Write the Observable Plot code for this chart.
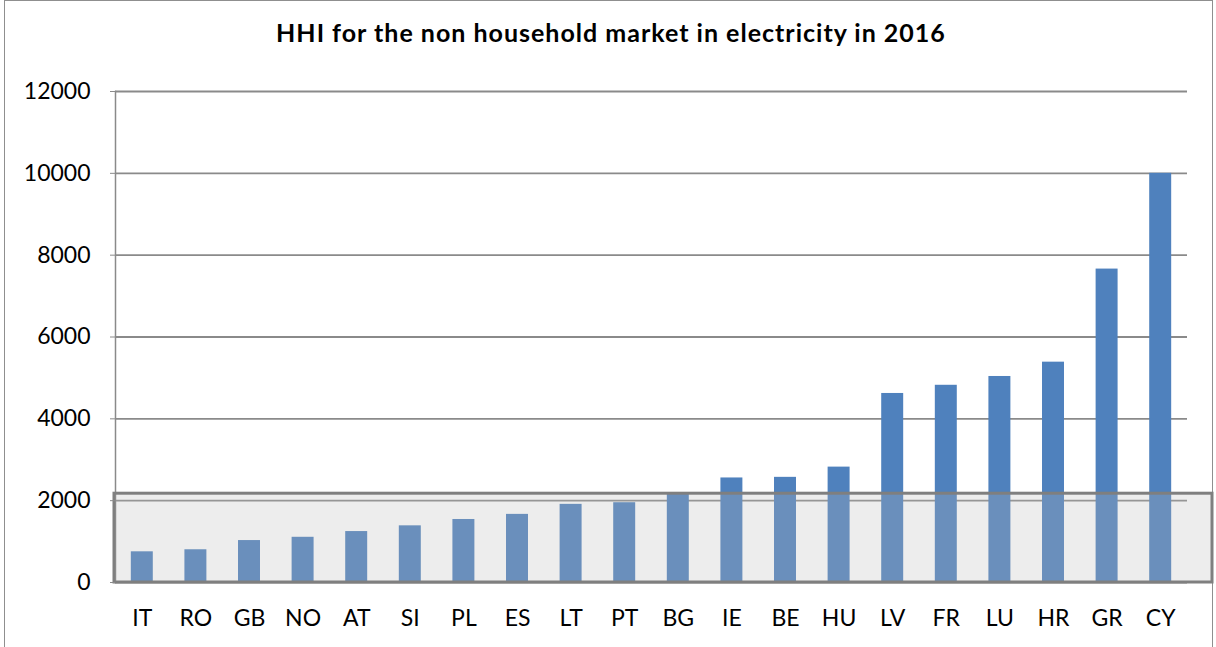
<!DOCTYPE html>
<html>
<head>
<meta charset="utf-8">
<script src="https://cdn.jsdelivr.net/npm/d3@7"></script>
<script src="https://cdn.jsdelivr.net/npm/@observablehq/plot@0.6"></script>
<style>
  html, body { margin: 0; padding: 0; background: #fff; }
  #wrap { position: relative; width: 1216px; height: 647px; overflow: hidden; font-family: Lato, "Open Sans", sans-serif; }
  #frame { position: absolute; left: 4px; top: 0px; width: 1209px; height: 700px; border: 1.5px solid #8f8f8f; box-sizing: border-box; }
  #title { position: absolute; left: 0; top: 17px; width: 1222px; text-align: center; font-weight: bold; font-size: 25px; letter-spacing: 1px; color: #000; }
  #chart { position: absolute; left: 0; top: 60px; }
</style>
</head>
<body>
<div id="wrap">
  <div id="frame"></div>
  <div id="title">HHI for the non household market in electricity in 2016</div>
  <div id="chart"></div>
</div>
<script>
const countries = ["IT","RO","GB","NO","AT","SI","PL","ES","LT","PT","BG","IE","BE","HU","LV","FR","LU","HR","GR","CY"];
const hhi = [750, 800, 1025, 1105, 1245, 1385, 1540, 1665, 1910, 1950, 2170, 2555, 2570, 2820, 4620, 4820, 5035, 5385, 7660, 10000];
const yTicks = [0, 2000, 4000, 6000, 8000, 10000, 12000];
const highlightMax = 2170;

const data = countries.map((c, i) => ({country: c, value: hhi[i]}));

const plot = Plot.plot({
  width: 1216,
  height: 587,
  marginLeft: 115,
  marginRight: 29,
  marginTop: 31,
  marginBottom: 65,
  style: { fontFamily: "Lato, 'Open Sans', sans-serif", fontSize: "23px", color: "#000", background: "transparent" },
  x: { domain: countries, paddingInner: 0.59, paddingOuter: 0.295, round: false, label: null },
  y: { domain: [0, 12000], ticks: yTicks, label: null },
  marks: [
    Plot.ruleY(yTicks, { stroke: "#8a8a8a", strokeWidth: 1.8 }),
    Plot.frame({ anchor: "left", stroke: "#8a8a8a", strokeWidth: 1.5 }),
    Plot.barY(data, { x: "country", y: "value", fill: "#4f81bd" }),
    Plot.rect([highlightMax], { y1: 0, y2: d => d, fill: "#b9b9b9", fillOpacity: 0.26, stroke: "#7f7f7f", strokeWidth: 3, insetRight: -25, insetLeft: -1 }),
    Plot.axisY({ ticks: yTicks, tickSize: 5, tickPadding: 20, stroke: "#8a8a8a", tickFormat: d => String(d), fontSize: 23 }),
    Plot.axisX({ tickSize: 0, tickPadding: 27, fontSize: 23 })
  ]
});
document.getElementById("chart").appendChild(plot);
</script>
</body>
</html>
